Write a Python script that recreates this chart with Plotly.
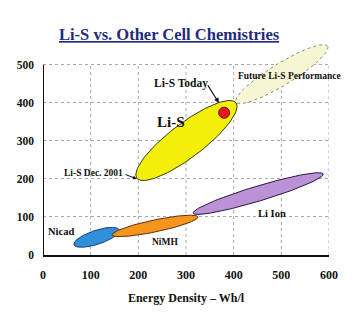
import numpy as np
import plotly.graph_objects as go

# ---------------- data ----------------
chem_names = ["Nicad", "NiMH", "Li Ion", "Future Li-S Performance", "Li-S"]
# energy density (Wh/l) / specific energy range end points of each region
ed_start = [65, 145, 315, 405, 197]
ed_end = [160, 325, 588, 597, 405]
se_start = [27, 53, 110, 402, 202]
se_end = [66, 100, 213, 549, 400]

today_x = [380]
today_y = [374]

x_ticks = [0, 100, 200, 300, 400, 500, 600]
y_ticks = [0, 100, 200, 300, 400, 500]

# ---------------- layout constants ----------------
W, H = 356, 325
ML, MR, MT, MB = 43, 27, 42, 70
XR = [0, 600]
YR = [0, 560]
PW, PH = W - ML - MR, H - MT - MB
sx = PW / (XR[1] - XR[0])
sy = PH / (YR[1] - YR[0])

styles = {
    "Nicad": dict(fill="#2f8fd8", line="#1c3c78", dash="solid", thick=14),
    "NiMH": dict(fill="#f6951c", line="#5a3210", dash="solid", thick=12),
    "Li Ion": dict(fill="#bb92d6", line="#2a1840", dash="solid", thick=15),
    "Future Li-S Performance": dict(fill="#f7f6d2", line="#8a8a70", dash="dot", thick=22),
    "Li-S": dict(fill="#f3ee0a", line="#3a3a10", dash="solid", thick=34),
}


def ellipse(x1, y1, x2, y2, thick_px, n=120):
    # build ellipse in screen space so it looks right, then map back to data
    p1 = np.array([x1 * sx, y1 * sy])
    p2 = np.array([x2 * sx, y2 * sy])
    c = (p1 + p2) / 2
    d = p2 - p1
    a = np.linalg.norm(d) / 2
    u = d / np.linalg.norm(d)
    v = np.array([-u[1], u[0]])
    b = thick_px / 2
    t = np.linspace(0, 2 * np.pi, n)
    pts = c[None, :] + (a * np.cos(t))[:, None] * u[None, :] + (b * np.sin(t))[:, None] * v[None, :]
    return pts[:, 0] / sx, pts[:, 1] / sy


fig = go.Figure()

for name, xa, xb, ya, yb in zip(chem_names, ed_start, ed_end, se_start, se_end):
    st = styles[name]
    ex, ey = ellipse(xa, ya, xb, yb, st["thick"])
    fig.add_trace(go.Scatter(
        x=ex, y=ey, mode="lines", fill="toself", fillcolor=st["fill"],
        line=dict(color=st["line"], width=1, dash=st["dash"]),
        hoverinfo="skip", showlegend=False,
    ))

fig.add_trace(go.Scatter(
    x=today_x, y=today_y, mode="markers",
    marker=dict(size=11, color="#e4161c", line=dict(color="#7a0a0a", width=1)),
    hoverinfo="skip", showlegend=False,
))

serif = "Liberation Serif, Times New Roman, serif"

# vertical grid lines limited to the 0-500 band, plus the left axis line
for xv in x_ticks[1:]:
    fig.add_shape(type="line", x0=xv, x1=xv, y0=y_ticks[0], y1=y_ticks[-1],
                  xref="x", yref="y", layer="below",
                  line=dict(color="#a8a8a8", width=1, dash="dot"))
fig.add_shape(type="line", x0=x_ticks[0], x1=x_ticks[0], y0=y_ticks[0], y1=y_ticks[-1],
              xref="x", yref="y", layer="above",
              line=dict(color="#111111", width=2))

def label(text, x, y, size, **kw):
    fig.add_annotation(text=text, x=x, y=y, xref="x", yref="y", showarrow=False,
                       font=dict(family=serif, size=size, color="#111111"), **kw)

label("<b>Li-S Today</b>", 290, 452, 11.5)
label("<b>Li-S</b>", 269, 349, 15)
label("<b>Future Li-S Performance</b>", 518, 470, 9.5)
label("<b>Li-S Dec. 2001</b>", 105, 215, 9.5)
label("<b>Nicad</b>", 38, 63, 10.5)
label("<b>NiMH</b>", 255, 33, 9.5)
label("<b>Li Ion</b>", 481, 109, 10.5)

# arrows
fig.add_annotation(text="", x=369, y=400, ax=-12, ay=-19, xref="x", yref="y",
                   showarrow=True, arrowhead=2, arrowsize=0.9, arrowwidth=1.1,
                   arrowcolor="#111111", standoff=0)
fig.add_annotation(text="", x=197, y=200, ax=-13, ay=-5, xref="x", yref="y",
                   showarrow=True, arrowhead=2, arrowsize=0.8, arrowwidth=1.0,
                   arrowcolor="#111111", standoff=0)

# title (paper coords relative to plot area)
title_px, title_py = 169, 35
fig.add_annotation(text="<b><u>Li-S vs. Other Cell Chemistries</u></b>",
                   x=(title_px - ML) / PW, y=(H - MB - title_py) / PH,
                   xref="paper", yref="paper", showarrow=False,
                   xanchor="center", yanchor="middle",
                   font=dict(family=serif, size=16.5, color="#232a7d"))

fig.update_layout(
    width=W, height=H,
    margin=dict(l=ML, r=MR, t=MT, b=MB, autoexpand=False),
    paper_bgcolor="white", plot_bgcolor="white",
    showlegend=False, hovermode=False,
    xaxis=dict(
        range=XR, tickvals=x_ticks, ticktext=[str(v) for v in x_ticks],
        showgrid=False, zeroline=False, showline=True, linecolor="#111111", linewidth=2,
        ticks="", ticklabelstandoff=8,
        tickfont=dict(family=serif, size=12, color="#111111", weight="bold"),
        title=dict(text="<b>Energy Density – Wh/l</b>", standoff=12,
                   font=dict(family=serif, size=12, color="#111111")),
        fixedrange=True,
    ),
    yaxis=dict(
        range=YR, tickvals=y_ticks, ticktext=[str(v) for v in y_ticks],
        showgrid=True, gridcolor="#a8a8a8", griddash="dot", gridwidth=1,
        zeroline=False, showline=False,
        ticks="", ticklabelstandoff=8,
        tickfont=dict(family=serif, size=11.5, color="#111111", weight="bold"),
        fixedrange=True,
    ),
)

fig.write_html("out.html", config={"displayModeBar": False})
